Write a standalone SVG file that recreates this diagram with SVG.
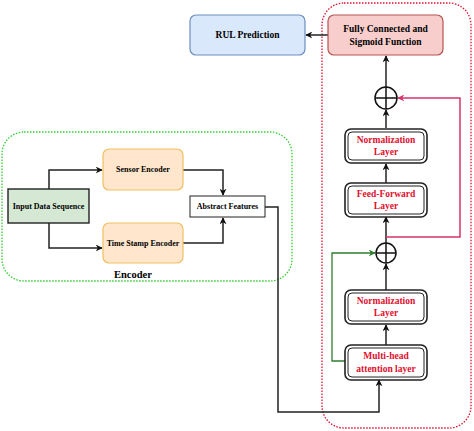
<svg xmlns="http://www.w3.org/2000/svg" width="474" height="431" viewBox="0 0 474 431">
<style>
text{font-family:"Liberation Serif","Times New Roman",serif;font-weight:bold;font-size:9.5px;text-anchor:middle;dominant-baseline:central}
.sm{font-size:8px}
.red{fill:#e0102e}
.conn{fill:none;stroke:#222;stroke-width:1.5}
.dbl-o{fill:#fff;stroke:#222;stroke-width:1.6}
.dbl-i{fill:none;stroke:#222;stroke-width:1}
</style>
<defs>
<marker id="ah" viewBox="0 0 10 10" refX="9" refY="5" markerWidth="7" markerHeight="7" orient="auto" markerUnits="userSpaceOnUse"><path d="M0,0 L10,5 L0,10 L3,5 Z" fill="#111"/></marker>
<marker id="ahg" viewBox="0 0 10 10" refX="9" refY="5" markerWidth="7" markerHeight="7" orient="auto" markerUnits="userSpaceOnUse"><path d="M0,0 L10,5 L0,10 L3,5 Z" fill="#2e7d2e"/></marker>
<marker id="ahp" viewBox="0 0 10 10" refX="9" refY="5" markerWidth="7" markerHeight="7" orient="auto" markerUnits="userSpaceOnUse"><path d="M0,0 L10,5 L0,10 L3,5 Z" fill="#d6336c"/></marker>
</defs>
<rect width="474" height="431" fill="#fff"/>
<g id="encoder-group">
<rect x="2" y="132" width="290" height="149" rx="22" fill="none" stroke="#33cc33" stroke-width="1.3" stroke-dasharray="1.5,1.5"/>
<text x="133" y="274" style="font-size:10.5px">Encoder</text>
</g>
<g id="transformer-group">
<rect x="322" y="3" width="149" height="425" rx="22" fill="none" stroke="#e0102e" stroke-width="1.3" stroke-dasharray="1.5,1.5"/>
</g>
<g id="connectors">
<path class="conn" d="M328,35 H306" marker-end="url(#ah)"/>
<path class="conn" d="M386,87 V56" marker-end="url(#ah)"/>
<path class="conn" d="M386,128 V110" marker-end="url(#ah)"/>
<path class="conn" d="M386,183 V164" marker-end="url(#ah)"/>
<path class="conn" d="M386,243 V217" marker-end="url(#ah)"/>
<path class="conn" d="M386,290 V264" marker-end="url(#ah)"/>
<path class="conn" d="M386,345 V325" marker-end="url(#ah)"/>
<path fill="none" stroke="#d6336c" stroke-width="1.5" d="M386,237 H460 V98 H398" marker-end="url(#ahp)"/>
<path fill="none" stroke="#2e7d2e" stroke-width="1.3" d="M345,361 H332 V253 H375" marker-end="url(#ahg)"/>
<path class="conn" d="M265,207 H278 V412 H379 V380" marker-end="url(#ah)"/>
<path class="conn" d="M49,189 V170 H102" marker-end="url(#ah)"/>
<path class="conn" d="M49,223 V248 H102" marker-end="url(#ah)"/>
<path class="conn" d="M183,170 H223 V195" marker-end="url(#ah)"/>
<path class="conn" d="M183,243 H223 V218" marker-end="url(#ah)"/>
</g>
<g id="rul-prediction">
<rect x="190" y="15" width="115" height="40" rx="6" fill="#dae8fc" stroke="#6c8ebf" stroke-width="1.2"/>
<text x="247.5" y="35">RUL Prediction</text>
</g>
<g id="fully-connected">
<rect x="328" y="15" width="115" height="40" rx="6" fill="#f8cecc" stroke="#b85450" stroke-width="1.2"/>
<text x="385.5" y="29">Fully Connected and</text>
<text x="385.5" y="41.5">Sigmoid Function</text>
</g>
<g id="add-top">
<circle cx="386" cy="98" r="11" fill="#fff" stroke="#111" stroke-width="1.5"/>
<path d="M375,98 H397 M386,87 V109" stroke="#111" stroke-width="1.5"/>
</g>
<g id="norm-top">
<rect class="dbl-o" x="345" y="129" width="82" height="34" rx="6"/>
<rect class="dbl-i" x="348" y="132" width="76" height="28" rx="4"/>
<text class="red" x="386" y="140">Normalization</text>
<text class="red" x="386" y="152">Layer</text>
</g>
<g id="feed-forward">
<rect class="dbl-o" x="345" y="183" width="82" height="34" rx="6"/>
<rect class="dbl-i" x="348" y="186" width="76" height="28" rx="4"/>
<text class="red" x="386" y="194">Feed-Forward</text>
<text class="red" x="386" y="206">Layer</text>
</g>
<g id="add-mid">
<circle cx="386" cy="253" r="10" fill="#fff" stroke="#111" stroke-width="1.5"/>
<path d="M376,253 H396 M386,243 V263" stroke="#111" stroke-width="1.5"/>
</g>
<g id="norm-bottom">
<rect class="dbl-o" x="345" y="290" width="82" height="34" rx="6"/>
<rect class="dbl-i" x="348" y="293" width="76" height="28" rx="4"/>
<text class="red" x="386" y="301">Normalization</text>
<text class="red" x="386" y="313">Layer</text>
</g>
<g id="multi-head">
<rect class="dbl-o" x="345" y="345" width="82" height="35" rx="6"/>
<rect class="dbl-i" x="348" y="348" width="76" height="29" rx="4"/>
<text class="red" x="386" y="356">Multi-head</text>
<text class="red" x="386" y="368.5">attention layer</text>
</g>
<g id="input-data">
<rect x="8" y="189" width="81" height="34" fill="#d5e8d4" stroke="#222" stroke-width="1.4"/>
<text class="sm" x="48.5" y="206">Input Data Sequence</text>
</g>
<g id="sensor-encoder">
<rect x="103" y="149" width="80" height="41" rx="6" fill="#ffe6cc" stroke="#f0c060" stroke-width="1.2"/>
<text class="sm" x="143" y="169.5">Sensor Encoder</text>
</g>
<g id="time-stamp-encoder">
<rect x="103" y="223" width="80" height="40" rx="6" fill="#ffe6cc" stroke="#f0c060" stroke-width="1.2"/>
<text class="sm" x="143" y="243">Time Stamp Encoder</text>
</g>
<g id="abstract-features">
<rect x="190" y="196" width="75" height="21" fill="#fff" stroke="#222" stroke-width="1"/>
<text class="sm" x="227.5" y="206.5">Abstract Features</text>
</g>
</svg>
